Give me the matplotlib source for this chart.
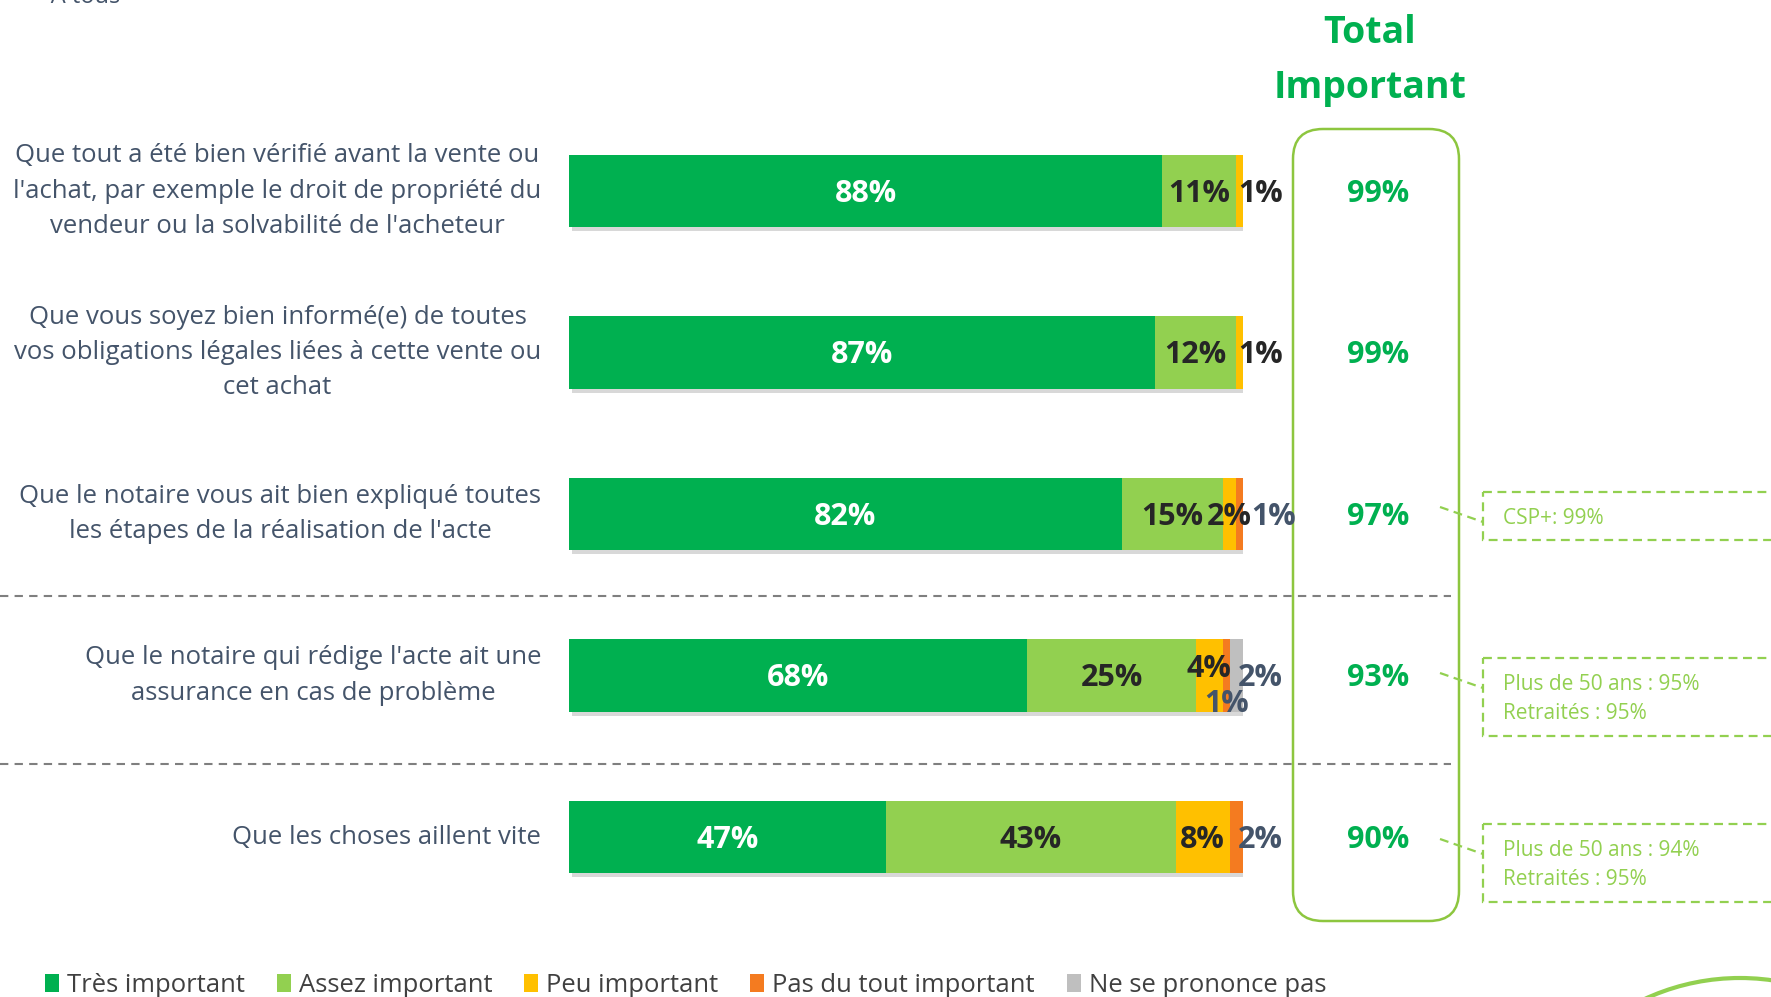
import matplotlib
matplotlib.use("Agg")
import matplotlib.pyplot as plt
import matplotlib.patheffects as pe
import matplotlib.transforms as mtransforms
from matplotlib.patches import FancyBboxPatch, Rectangle, Patch, Circle

plt.rcParams['font.family'] = ['Open Sans', 'DejaVu Sans']

# data
categories = [
    "Que tout a été bien vérifié avant la vente ou\nl'achat, par exemple le droit de propriété du\nvendeur ou la solvabilité de l'acheteur",
    "Que vous soyez bien informé(e) de toutes\nvos obligations légales liées à cette vente ou\ncet achat",
    "Que le notaire vous ait bien expliqué toutes\nles étapes de la réalisation de l'acte",
    "Que le notaire qui rédige l'acte ait une\nassurance en cas de problème",
    "Que les choses aillent vite",
]
series = ["Très important", "Assez important", "Peu important",
          "Pas du tout important", "Ne se prononce pas"]
tres = [88, 87, 82, 68, 47]
assez = [11, 12, 15, 25, 43]
peu = [1, 1, 2, 4, 8]
pas_du_tout = [0, 0, 1, 1, 2]
nsp = [0, 0, 0, 2, 0]
total_important = [99, 99, 97, 93, 90]
callout_rows = [2, 3, 4]
callout_texts = ["CSP+: 99%",
                 "Plus de 50 ans : 95%\nRetraités : 95%",
                 "Plus de 50 ans : 94%\nRetraités : 95%"]

colors = ['#00B050', '#92D050', '#FFC000', '#F47B20', '#BFBFBF']
label_colors = ['white', '#262626', '#262626', '#44546A', '#44546A']
slate = '#44546A'
lime = '#8DC63F'

W, H = 1771, 997
fig = plt.figure(figsize=(W / 100, H / 100), dpi=100)

# pixel overlay for decorations
deco = fig.add_axes([0, 0, 1, 1])
deco.set_xlim(0, W)
deco.set_ylim(H, 0)
deco.axis('off')

# bar axes
row_top, row_step = 191, 161.5
ax_top = row_top - row_step / 2
ax_bot = row_top + 4 * row_step + row_step / 2
ax = fig.add_axes([569 / W, 1 - ax_bot / H, 674 / W, (ax_bot - ax_top) / H])
ax.set_facecolor('none')

values = [tres, assez, peu, pas_du_tout, nsp]
shadow = [pe.SimplePatchShadow(offset=(2, -3), shadow_rgbFace='#808080', alpha=0.3),
          pe.Normal()]
rows = list(range(len(categories)))
left = [0] * len(rows)
for k, vals in enumerate(values):
    for i in rows:
        if vals[i] > 0:
            ax.barh(i, vals[i], left=left[i], height=0.446, color=colors[k],
                    edgecolor='none', path_effects=shadow, zorder=2)
    left = [l + v for l, v in zip(left, vals)]

# segment labels (baseline placed so digits are centred on the bar)
base = 0.068
for i in rows:
    segs = [values[k][i] for k in range(5)]
    nz = [k for k in range(5) if segs[k] > 0]
    last = nz[-1]
    start = 0
    prev_end = 0
    for k in range(5):
        v = segs[k]
        if v == 0:
            continue
        cx = start + v / 2
        dy = 0
        ha = 'center'
        half = (len(str(v)) * 0.57 + 0.85) * 30.6 / 6.74 / 2
        if k == last and v < 3:
            cx, ha = max(99.3, prev_end), 'left'
        elif v < 2:
            dy = 0.155
        elif k + 1 < 5 and k + 1 != last and 0 < segs[k + 1] < 2:
            dy = -0.056
        ax.text(cx, i + dy + base, f"{v}%", ha=ha, va='baseline', fontsize=22,
                fontweight='bold', color=label_colors[k], zorder=5)
        if dy == 0:
            prev_end = cx + half
        start += v

ax.set_xlim(0, 100)
ax.set_ylim(4.5, -0.5)
ax.set_xticks([])
ax.set_yticks(rows)
ax.set_yticklabels(categories, fontsize=18.5, color=slate, va='center',
                   multialignment='center', linespacing=1.54)
ax.tick_params(axis='y', length=0, pad=20)
for s in ax.spines.values():
    s.set_visible(False)

# separators
for yy in (596, 764):
    deco.plot([0, 1451], [yy, yy], color='#7F7F7F', lw=1.5, ls=(0, (4, 3)))

# total important column
deco.add_patch(FancyBboxPatch((1293, 129), 166, 792,
                              boxstyle="round,pad=0,rounding_size=30",
                              fill=False, edgecolor=lime, lw=1.8))
deco.text(1370, 43, "Total", ha='center', va='baseline', fontsize=27,
          fontweight='bold', color='#00B050')
deco.text(1370, 98, "Important", ha='center', va='baseline', fontsize=27,
          fontweight='bold', color='#00B050')
trans = mtransforms.blended_transform_factory(deco.transData, ax.transData)
for i, v in enumerate(total_important):
    deco.text(1378, i + base, f"{v}%", transform=trans, ha='center', va='baseline',
              fontsize=22, fontweight='bold', color='#00B050')

# callouts
callout_tops = [492, 658, 824]
for top, txt in zip(callout_tops, callout_texts):
    n = txt.count('\n') + 1
    h = 48 if n == 1 else 78
    deco.add_patch(Rectangle((1483, top), 320, h, fill=False, edgecolor='#92D050',
                             lw=1.6, ls=(0, (4, 2.5))))
    deco.plot([1440, 1483], [top + 15, top + 30], color='#92D050', lw=1.6,
              ls=(0, (4, 2.5)))
    for j, line in enumerate(txt.split('\n')):
        deco.text(1503, top + 32 + 29 * j, line, ha='left', va='baseline',
                  fontsize=15, color='#92D050')

# partial header and decoration
deco.text(37, 3, "- A tous", ha='left', va='baseline', fontsize=17, color=slate)
deco.add_patch(Circle((1740, 1205), 227, fill=False, edgecolor='#92D050', lw=3))

# legend
handles = [Patch(facecolor=c, edgecolor='none') for c in colors]
fig.legend(handles, series, loc='center left', bbox_to_anchor=(45 / W, 1 - 985 / H),
           ncol=5, frameon=False, fontsize=18.45, handlelength=0.55, handleheight=0.7,
           handletextpad=0.3, columnspacing=1.25, borderpad=0, borderaxespad=0,
           labelcolor='#404040')

fig.savefig("out.png", dpi=100)
